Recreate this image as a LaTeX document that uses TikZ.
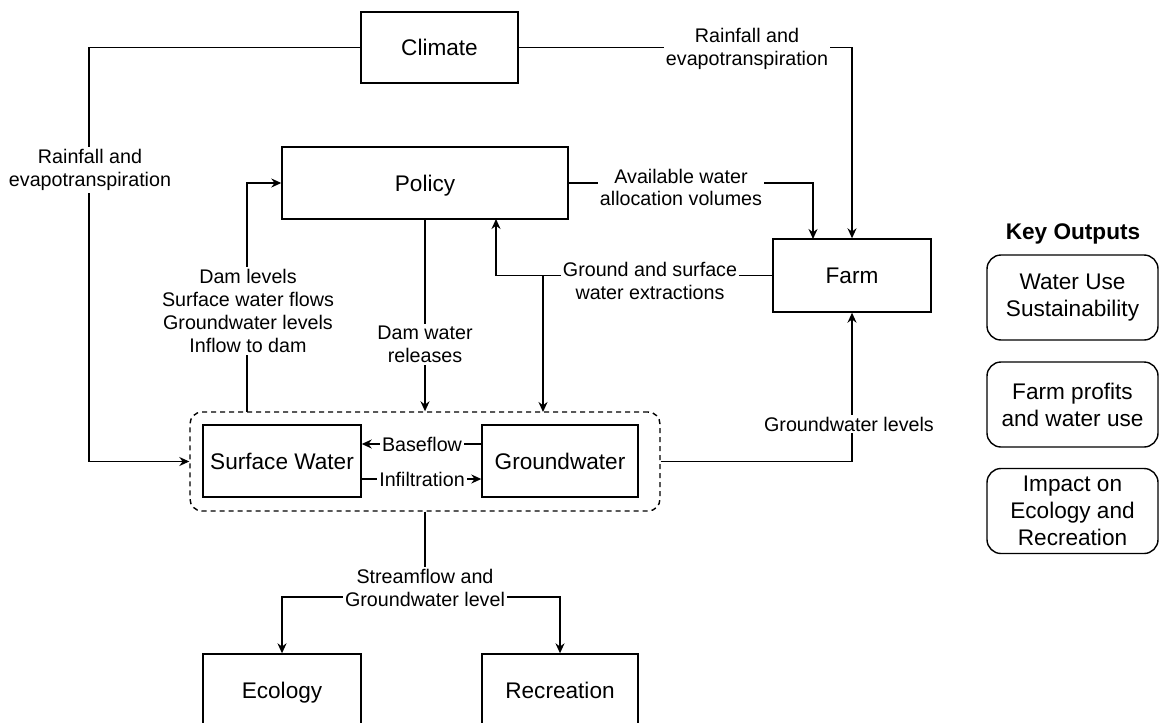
\documentclass[tikz,border=0pt]{standalone}
\usepackage{fontspec}
\setmainfont{Liberation Sans}
\usetikzlibrary{arrows.meta,calc}

\newcommand{\boxfont}{\fontsize{11.3}{13.5}\selectfont}
\newcommand{\lblfont}{\fontsize{9.85}{11.45}\selectfont}

\begin{document}
\begin{tikzpicture}[x=0.5pt,y=-0.5pt,
    box/.style={draw,line width=0.7pt,inner sep=0pt,align=center,font=\boxfont},
    group/.style={draw,line width=0.7pt,dash pattern=on 2.5pt off 2pt,rounded corners=6pt,minimum width=235pt,minimum height=49.5pt},
    keybox/.style={box,rounded corners=7pt,minimum width=85.5pt,minimum height=42.5pt},
    lbl/.style={fill=white,inner sep=1pt,align=center,font=\lblfont}]
                \useasboundingbox (0,0) rectangle (1159,722);

                \node [group] (H) at (425,461.5) {};

				\begin{scope}[every node/.style={box,minimum width=79pt,minimum height=36pt,text height=8.2pt,text depth=0pt}]
                    \node (A) at (439.5,47.5) [minimum width=78.5pt,minimum height=35.5pt] {Climate};
                    \node (B) at (425,183) [minimum width=143pt] {Policy};
                    \node (C) at (852,275.5) [minimum height=36.5pt] {Farm};
                    \node (D) at (282,461) {Surface Water};
                    \node (E) at (560,461) [minimum width=78pt] {Groundwater};
                    \node (F) at (282,690) {Ecology};
                    \node (G) at (560,690) [minimum width=78pt] {Recreation};
                \end{scope}

                \coordinate (d1) at (89,461.5);
                \coordinate (d2) at (813,239);
                \coordinate (d3) at (247,412);
                \coordinate (d4) at (496,219);
                \coordinate (d5) at (543,275.5);
                \coordinate (d6) at (543,412);
                \coordinate (d9) at (425,597);

                \begin{scope}[>={Stealth[length=5pt,width=4.5pt]},line width=0.7pt,
                every edge/.style={draw=black,line width=0.7pt}]
                    \path [->] (B) edge node {} (H);
                    \path [->] (d5) edge node {} (d6);

                    \draw [->] (A.west) -| (d1) -- (H.west);
                    \draw [->] (A.east) -| (C.north);
                    \draw [->] (B.east) -| (d2);
                    \draw [->] (d3) |- (B.west);
                    \draw [->] (C.west) -| (d4);
                    \draw [->] (H.east) -| (C.south);

                    \draw [->] ($(E.west)+(0,-17)$) coordinate (d7) -- (d7 -| D.east);
                    \draw [->] ($(D.east)+(0,18)$) coordinate (d8) -- (d8 -| E.west);

                    \draw (H.south) -- (d9);
                    \draw [->] (d9) -| (F.north);
                    \draw [->] (d9) -| (G.north);
                \end{scope}

                \node [lbl] (l1) at (90,170) {Rainfall and\\evapotranspiration};
                \node [lbl] (l2) at (747,48.5) {Rainfall and\\evapotranspiration};
                \node [lbl] (l3) at (681,187.5) {Available water\\allocation volumes};
                \node [lbl] (l4) at (650,281) {Ground and surface\\water extractions};
                \node [lbl] (l5) at (248,311) {Dam levels\\Surface water flows\\Groundwater levels\\Inflow to dam};
                \node [lbl] (l6) at (425,344.5) {Dam water\\releases};
                \node [lbl] (l7) at (849,424) {Groundwater levels};
                \node [lbl] (l8) at (422,444) {Baseflow};
                \node [lbl] (l9) at (422,479) {Infiltration};
                \node [lbl] (l10) at (425,587.5) {Streamflow and\\Groundwater level};

                \node [font=\boxfont\bfseries] (K) at (1073,234) {Key Outputs};
                \node [keybox] (L) at (1072.5,297.5) {Water Use\\Sustainability};
                \node [keybox] (M) at (1072.5,404.5) {Farm profits\\and water use};
                \node [keybox] (N) at (1072.5,511) {Impact on\\Ecology and\\Recreation};
			\end{tikzpicture}
\end{document}
